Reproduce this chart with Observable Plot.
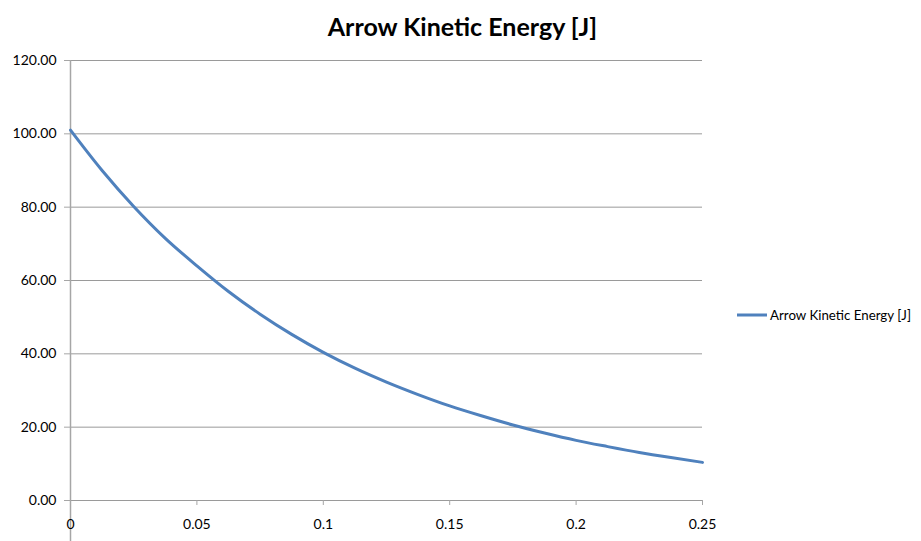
<!DOCTYPE html>
<html>
<head>
<meta charset="utf-8">
<script src="https://cdn.jsdelivr.net/npm/d3@7"></script>
<script src="https://cdn.jsdelivr.net/npm/@observablehq/plot@0.6"></script>
<style>
  html, body { margin: 0; padding: 0; background: #fff; }
  #wrap { position: relative; width: 921px; height: 541px; font-family: Lato, "Open Sans", sans-serif; }
  #title { position: absolute; left: 0; width: 925px; top: 11px; text-align: center; font-weight: bold; font-size: 25px; color: #000; }
  #legend { position: absolute; left: 737px; top: 307px; font-size: 13.3px; color: #000; display: flex; align-items: center; white-space: nowrap; }
  #legend svg { margin-right: 3px; }
  #chart { position: absolute; left: 0; top: 0; }
</style>
</head>
<body>
<div id="wrap">
  <div id="chart"></div>
  <div id="title">Arrow Kinetic Energy [J]</div>
  <div id="legend"><svg width="30" height="6"><line x1="0" x2="30" y1="3" y2="3" stroke="#4F81BD" stroke-width="3"/></svg><span>Arrow Kinetic Energy [J]</span></div>
</div>
<script>
const seriesName = "Arrow Kinetic Energy [J]";
const time = [0, 0.0125, 0.025, 0.0375, 0.05, 0.0625, 0.075, 0.0875, 0.1, 0.1125, 0.125, 0.1375, 0.15, 0.1625, 0.175, 0.1875, 0.2, 0.2125, 0.225, 0.2375, 0.25];
const energy = [101.0, 90.0, 80.2, 71.5, 64.0, 57.0, 50.8, 45.3, 40.4, 36.1, 32.3, 28.9, 25.8, 23.1, 20.6, 18.4, 16.4, 14.7, 13.1, 11.7, 10.4];
const xTicks = [0, 0.05, 0.1, 0.15, 0.2, 0.25];
const xTickLabels = ["0", "0.05", "0.1", "0.15", "0.2", "0.25"];
const yTicks = [0, 20, 40, 60, 80, 100, 120];
const yTickLabels = ["0.00", "20.00", "40.00", "60.00", "80.00", "100.00", "120.00"];

const data = time.map((t, i) => ({t, e: energy[i]}));

const chart = Plot.plot({
  width: 921,
  height: 541,
  marginTop: 60,
  marginLeft: 70,
  marginRight: 219,
  marginBottom: 41,
  style: {fontFamily: "Lato, 'Open Sans', sans-serif", fontSize: "14px", color: "#000", background: "#fff"},
  x: {domain: [0, 0.25]},
  y: {domain: [0, 120]},
  marks: [
    Plot.gridY(yTicks, {stroke: "#9a9a9a", strokeOpacity: 1, strokeWidth: 1}),
    Plot.ruleX([0], {stroke: "#a6a6a6", strokeWidth: 1.5, insetBottom: -42}),
    Plot.axisY({ticks: yTicks, tickFormat: d => yTickLabels[yTicks.indexOf(d)], tickSize: 6, tickPadding: 8, stroke: "#a6a6a6", fill: "#000", label: null}),
    Plot.axisX({ticks: xTicks, tickFormat: d => xTickLabels[xTicks.indexOf(d)], tickSize: 5, tickPadding: 14, stroke: "#a6a6a6", fill: "#000", label: null}),
    Plot.line(data, {x: "t", y: "e", stroke: "#4F81BD", strokeWidth: 3, curve: "monotone-x"})
  ]
});
document.getElementById("chart").appendChild(chart);
</script>
</body>
</html>
